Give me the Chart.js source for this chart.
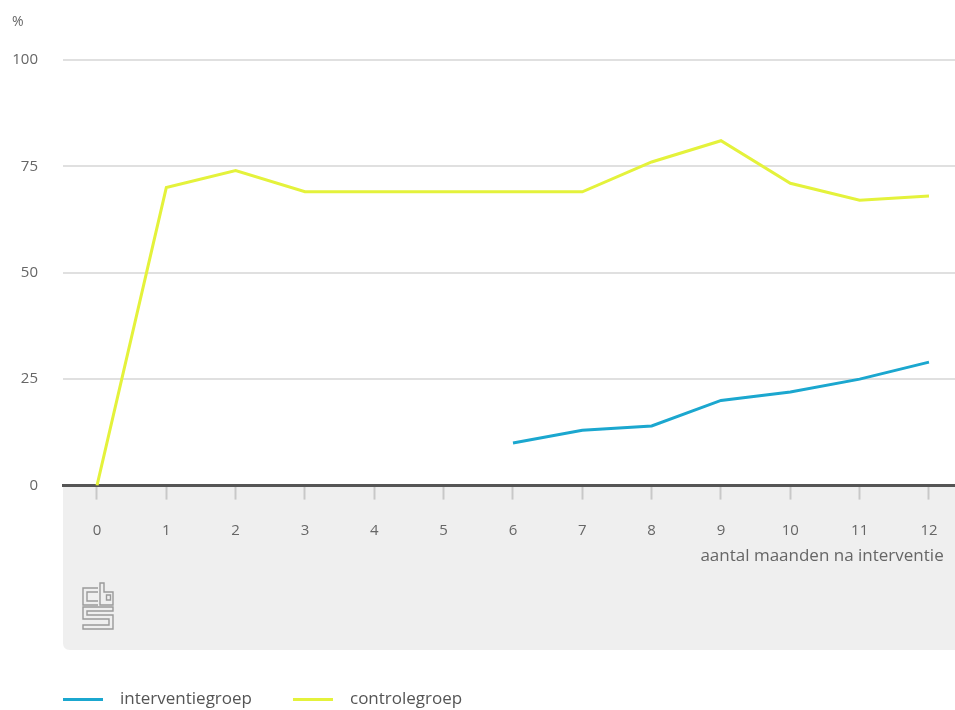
<!DOCTYPE html>
<html>
<head>
<meta charset="utf-8">
<script src="https://cdn.jsdelivr.net/npm/chart.js@4.4.0/dist/chart.umd.min.js"></script>
<style>
  html, body { margin: 0; padding: 0; background: #fff; }
  #wrap { width: 955px; height: 710px; }
</style>
</head>
<body>
<div id="wrap"><canvas id="chart" width="955" height="710"></canvas></div>
<script>
// data
const months = [0, 1, 2, 3, 4, 5, 6, 7, 8, 9, 10, 11, 12];
const interventie = [null, null, null, null, null, null, 10, 13, 14, 20, 22, 25, 29];
const controle = [0, 70, 74, 69, 69, 69, 69, 69, 76, 81, 71, 67, 68];
const yTicks = [0, 25, 50, 75, 100];

const textColor = '#666';
const font = 'Open Sans';

function points(values) {
  return months.map((m, i) => ({ x: m, y: values[i] }));
}

// grey band under the x axis + cbs logo
const bandPlugin = {
  id: 'band',
  afterLayout(chart) {
    // legend starts in line with the plot area
    chart.legend.left = 22;
  },
  beforeDraw(chart) {
    const ctx = chart.ctx;
    const area = chart.chartArea;
    const x = chart.scales.x;
    const top = area.bottom;
    const bottom = x.bottom;
    const left = area.left, right = chart.width, r = 7;
    ctx.save();
    ctx.fillStyle = '#efefef';
    ctx.beginPath();
    ctx.moveTo(left, top);
    ctx.lineTo(right, top);
    ctx.lineTo(right, bottom);
    ctx.lineTo(left + r, bottom);
    ctx.quadraticCurveTo(left, bottom, left, bottom - r);
    ctx.closePath();
    ctx.fill();

    // logo
    const lx = left + 20, ly = bottom - 67;
    ctx.translate(lx, ly);
    ctx.strokeStyle = '#9a9a9a';
    ctx.lineWidth = 1.4;
    ctx.beginPath();
    // c
    ctx.moveTo(15, 5); ctx.lineTo(0, 5); ctx.lineTo(0, 22); ctx.lineTo(15, 22);
    ctx.moveTo(15, 9); ctx.lineTo(4, 9); ctx.lineTo(4, 18); ctx.lineTo(15, 18);
    // b
    ctx.moveTo(17, 0); ctx.lineTo(21, 0); ctx.lineTo(21, 9); ctx.lineTo(30, 9);
    ctx.lineTo(30, 22); ctx.lineTo(17, 22); ctx.closePath();
    ctx.rect(23.5, 12, 4, 5);
    // s
    ctx.moveTo(30, 24); ctx.lineTo(0, 24); ctx.lineTo(0, 36); ctx.lineTo(26, 36);
    ctx.lineTo(26, 42); ctx.lineTo(0, 42); ctx.lineTo(0, 46); ctx.lineTo(30, 46);
    ctx.lineTo(30, 32); ctx.lineTo(4, 32); ctx.lineTo(4, 28); ctx.lineTo(30, 28);
    ctx.closePath();
    ctx.stroke();
    ctx.restore();
  }
};

new Chart(document.getElementById('chart'), {
  type: 'line',
  data: {
    datasets: [
      {
        label: 'interventiegroep',
        data: points(interventie),
        borderColor: '#1ba7cf',
        backgroundColor: '#1ba7cf',
        borderWidth: 3,
        pointRadius: 0,
        tension: 0
      },
      {
        label: 'controlegroep',
        data: points(controle),
        borderColor: '#e4f23b',
        backgroundColor: '#e4f23b',
        borderWidth: 3,
        pointRadius: 0,
        tension: 0
      }
    ]
  },
  options: {
    responsive: false,
    animation: false,
    layout: { padding: { left: 12, right: 0, top: 0, bottom: 0 } },
    scales: {
      x: {
        type: 'linear',
        min: -0.49,
        max: 12.375,
        afterBuildTicks: s => { s.ticks = months.map(v => ({ value: v })); },
        afterFit: s => { s.paddingRight = 0; s.paddingLeft = 0; },
        grid: {
          drawOnChartArea: false,
          tickLength: 14,
          tickColor: '#c8c8c8',
          tickWidth: 2
        },
        border: { color: '#555', width: 3 },
        ticks: {
          padding: 22,
          color: textColor,
          font: { family: font, size: 15 },
          maxRotation: 0
        },
        title: {
          display: true,
          text: 'aantal maanden na interventie\u2002\u2009',
          align: 'end',
          color: textColor,
          font: { family: font, size: 17 },
          padding: { top: -16, bottom: 84 }
        }
      },
      y: {
        min: 0,
        max: 100,
        afterBuildTicks: s => { s.ticks = yTicks.map(v => ({ value: v })); },
        afterFit: s => { s.width = 51; },
        grid: {
          drawTicks: false,
          color: c => c.tick && c.tick.value === 0 ? 'rgba(0,0,0,0)' : '#e0e0e0',
          lineWidth: 2
        },
        border: { display: false },
        ticks: {
          padding: 25,
          color: textColor,
          font: { family: font, size: 15 }
        }
      }
    },
    plugins: {
      title: {
        display: true,
        text: '%',
        align: 'start',
        color: textColor,
        font: { family: font, size: 14, weight: 'normal' },
        padding: { top: 14, bottom: 29 }
      },
      legend: {
        position: 'bottom',
        align: 'start',
        maxHeight: 60,
        labels: {
          boxWidth: 40,
          boxHeight: 3,
          padding: 41,
          color: '#555',
          font: { family: font, size: 17 },
          generateLabels: chart => Chart.defaults.plugins.legend.labels.generateLabels(chart)
            .map(item => Object.assign(item, { text: '\u2002' + item.text, lineWidth: 0 }))
        }
      },
      tooltip: { enabled: false }
    }
  },
  plugins: [bandPlugin]
});
</script>
</body>
</html>
